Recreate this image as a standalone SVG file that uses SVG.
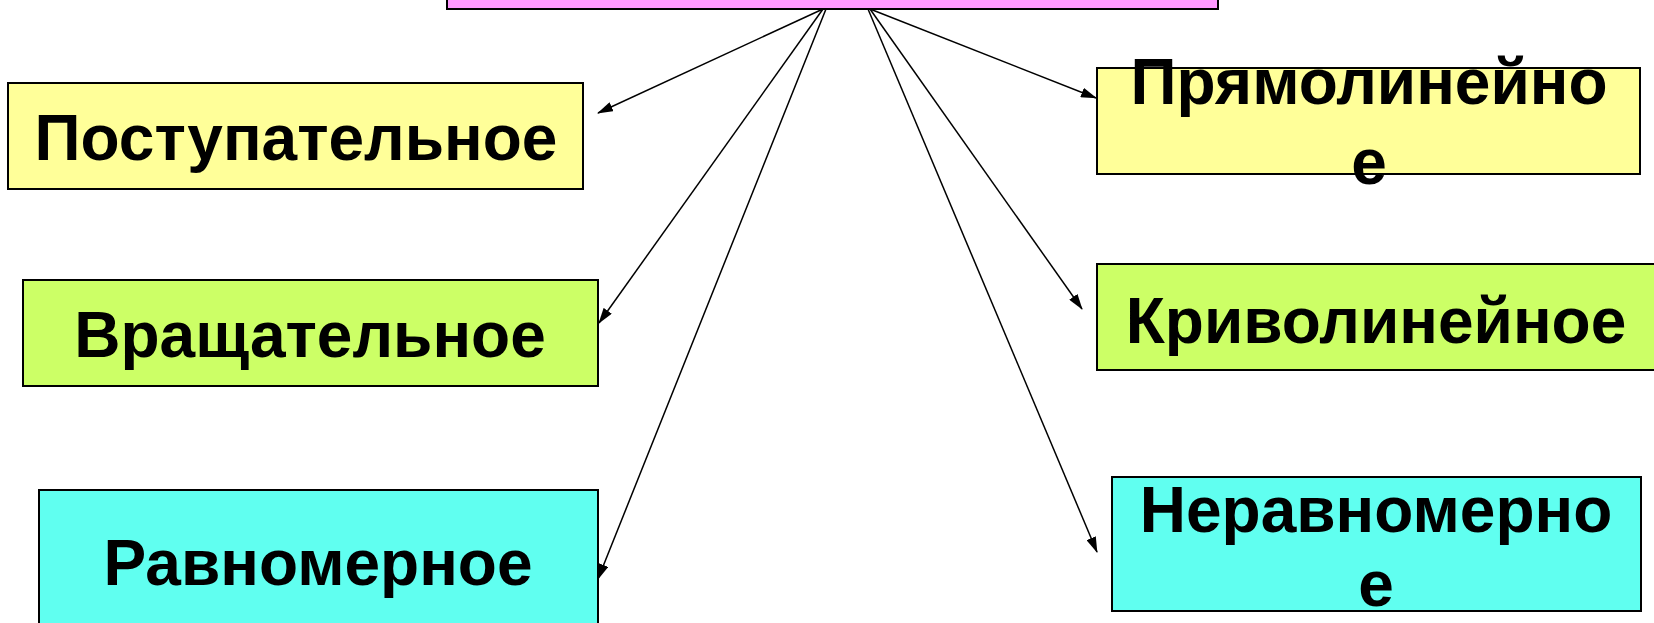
<svg xmlns="http://www.w3.org/2000/svg" width="1654" height="623" viewBox="0 0 1654 623">
<style>
.box{stroke:#000;stroke-width:2}
.y{fill:#FFFF99}
.g{fill:#CCFF66}
.c{fill:#60FFF0}
.p{fill:#FF99FF}
.t{font-family:"Liberation Sans",Arial,sans-serif;font-weight:bold;font-size:64px;fill:#000;text-anchor:middle}
.ln{stroke:#000;stroke-width:1.5;fill:none;marker-end:url(#ah)}
</style>
<defs>
<marker id="ah" markerUnits="userSpaceOnUse" markerWidth="16" markerHeight="10" refX="15" refY="5" orient="auto">
<path d="M0,0 L16,5 L0,10 Z" fill="#000"/>
</marker>
</defs>
<rect x="0" y="0" width="1654" height="623" fill="#fff"/>
<g id="top">
<rect class="box p" x="447" y="-60" width="771" height="69"/>
</g>
<g id="connectors">
<line class="ln" x1="823" y1="9" x2="598" y2="113"/>
<line class="ln" x1="823" y1="9" x2="599" y2="323"/>
<line class="ln" x1="826" y1="9" x2="598" y2="579"/>
<line class="ln" x1="870" y1="9" x2="1096" y2="98"/>
<line class="ln" x1="870" y1="9" x2="1082" y2="309"/>
<line class="ln" x1="868" y1="9" x2="1097" y2="552"/>
</g>
<g id="postupatelnoe">
<rect class="box y" x="8" y="83" width="575" height="106"/>
<text class="t" x="296" y="160">Поступательное</text>
</g>
<g id="vrashchatelnoe">
<rect class="box g" x="23" y="280" width="575" height="106"/>
<text class="t" x="310" y="357">Вращательное</text>
</g>
<g id="ravnomernoe">
<rect class="box c" x="39" y="490" width="559" height="150"/>
<text class="t" x="318" y="585">Равномерное</text>
</g>
<g id="pryamolineynoe">
<rect class="box y" x="1097" y="68" width="543" height="106"/>
<text class="t" x="1369" y="104">Прямолинейно</text>
<text class="t" x="1369" y="184">е</text>
</g>
<g id="krivolineynoe">
<rect class="box g" x="1097" y="264" width="565" height="106"/>
<text class="t" x="1376" y="343">Криволинейное</text>
</g>
<g id="neravnomernoe">
<rect class="box c" x="1112" y="477" width="529" height="134"/>
<text class="t" x="1376" y="532">Неравномерно</text>
<text class="t" x="1376" y="606">е</text>
</g>
</svg>
